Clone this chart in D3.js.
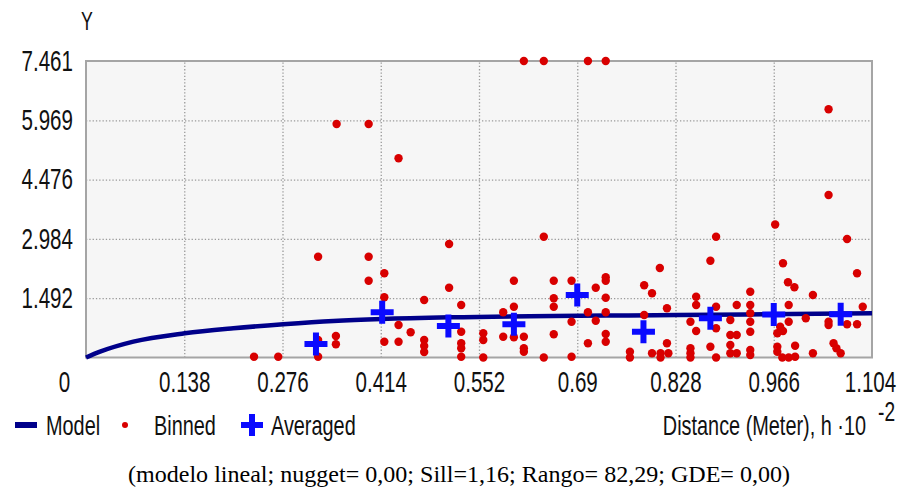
<!DOCTYPE html>
<html>
<head>
<meta charset="utf-8">
<script src="https://cdn.jsdelivr.net/npm/d3@7"></script>
<style>
  body { margin: 0; background: #fff; }
  svg { display: block; }
</style>
</head>
<body>
<svg id="chart" width="907" height="492"></svg>
<script>
// tick values shown on the axes
const xTicks = [0, 0.138, 0.276, 0.414, 0.552, 0.69, 0.828, 0.966, 1.104];
const yTicks = [0, 1.492, 2.984, 4.476, 5.969, 7.461];

// fitted model curve
const modelX = [0, 0.0197, 0.0665, 0.1387, 0.207, 0.277, 0.3475, 0.4155, 0.5115, 0.83, 1.104];
const modelY = [0, 0.146, 0.398, 0.609, 0.735, 0.835, 0.918, 0.969, 1.012, 1.069, 1.112];

// binned semivariogram cloud
const binnedX = [
  0.352, 0.397, 0.439, 0.615, 0.643, 0.705, 0.730, 1.043, 1.043, 0.326,
  0.397, 0.397, 0.419, 0.419, 0.475, 0.439, 0.456, 0.351, 0.351, 0.419,
  0.439, 0.475, 0.475, 0.475, 0.236, 0.270, 0.326, 0.510, 0.510, 0.527,
  0.527, 0.527, 0.527, 0.527, 0.558, 0.558, 0.558, 0.586, 0.586, 0.601,
  0.601, 0.601, 0.615, 0.615, 0.615, 0.643, 0.643, 0.657, 0.657, 0.657,
  0.657, 0.682, 0.682, 0.682, 0.705, 0.705, 0.716, 0.716, 0.730, 0.730,
  0.730, 0.730, 0.730, 0.730, 0.764, 0.764, 0.784, 0.795, 0.806, 0.784,
  0.816, 0.795, 0.807, 0.818, 0.807, 0.816, 0.885, 0.877, 0.968, 0.979,
  0.986, 0.995, 1.021, 1.069, 1.083, 1.091, 1.083, 1.069, 1.043, 1.043,
  1.050, 1.054, 1.060, 1.021, 1.011, 0.987, 0.987, 0.975, 0.979, 0.971,
  0.971, 0.971, 0.978, 0.987, 0.996, 0.996, 0.933, 0.933, 0.933, 0.933,
  0.933, 0.933, 0.933, 0.914, 0.905, 0.905, 0.914, 0.905, 0.905, 0.914,
  0.885, 0.885, 0.877, 0.885, 0.857, 0.857, 0.849, 0.857, 0.849, 0.849,
  0.849, 0.326
];
const binnedY = [
  5.876, 5.876, 5.013, 7.461, 7.461, 7.461, 7.461, 6.246, 4.089, 2.537,
  2.537, 1.933, 2.119, 1.515, 1.447, 0.818, 0.634, 0.541, 0.332, 0.398,
  0.398, 0.440, 0.289, 0.138, 0.02, 0.02, 0.02, 2.856, 1.756, 1.321,
  0.649, 0.357, 0.232, 0.02, 0.609, 0.440, 0.0, 1.137, 0.523, 1.933,
  1.278, 0.508, 0.523, 0.232, 0.146, 3.040, 0.0, 1.933, 1.490, 1.278,
  0.584, 1.933, 0.901, 0.02, 1.137, 0.357, 1.756, 0.926, 2.018, 1.933,
  1.505, 1.137, 0.591, 0.398, 0.146, 0.0, 1.817, 1.616, 2.252, 1.069,
  1.238, 0.106, 0.106, 0.106, 0.0, 0.357, 3.040, 2.436, 3.347, 2.370,
  1.892, 1.767, 1.573, 2.982, 2.119, 1.278, 0.835, 0.835, 0.901, 0.818,
  0.357, 0.232, 0.106, 0.106, 0.986, 1.321, 0.901, 0.775, 0.667, 0.609,
  0.272, 0.146, 0.0, 0.0, 0.02, 0.297, 1.656, 1.321, 1.112, 0.901,
  0.649, 0.189, 0.063, 1.321, 0.944, 0.566, 0.566, 0.315, 0.106, 0.106,
  1.278, 0.735, 0.272, 0.0, 1.530, 1.321, 0.901, 0.667, 0.232, 0.106,
  0.0, 0.44
];

// averaged values per lag
const avgX = [0.323, 0.416, 0.509, 0.601, 0.690, 0.783, 0.877, 0.966, 1.060];
const avgY = [0.340, 1.137, 0.790, 0.835, 1.573, 0.649, 0.986, 1.080, 1.090];

const caption = '(modelo lineal; nugget= 0,00; Sill=1,16; Rango= 82,29; GDE= 0,00)';

const margin = { top: 61, right: 35, bottom: 134.5, left: 86 };
const W = 907, H = 492;
const width = W - margin.left - margin.right;
const height = H - margin.top - margin.bottom;

const FONT = '"Liberation Sans", Arial, sans-serif';
const SQ = 0.71; // the original font is a narrow one

// squash text horizontally to mimic the narrow font (keeps its anchor point)
function squeeze (sel, k) {
  sel.each(function () {
    const t = d3.select(this);
    const x0 = +t.attr('x') || 0;
    t.attr('x', x0 / k).attr('transform', `scale(${k},1)`);
  });
}

const svg = d3.select('#chart');
const g = svg.append('g').attr('transform', `translate(${margin.left},${margin.top})`);

const x = d3.scaleLinear().domain([0, 1.104]).range([0, width]);
const y = d3.scaleLinear().domain([0, 7.461]).range([height, 0]);

// plot background
g.append('rect')
  .attr('width', width).attr('height', height)
  .attr('fill', '#f6f6f6');

// grid
const xGrid = g.append('g')
  .attr('transform', `translate(0,${height})`)
  .call(d3.axisBottom(x).tickValues(xTicks.slice(1, -1)).tickSize(-height).tickFormat(''));
const yGrid = g.append('g')
  .call(d3.axisLeft(y).tickValues(yTicks.slice(1, -1)).tickSize(-width).tickFormat(''));
[xGrid, yGrid].forEach(s => {
  s.select('.domain').remove();
  s.selectAll('line')
    .attr('stroke', '#9a9a9a')
    .attr('stroke-width', 1.3)
    .attr('stroke-dasharray', '1.3,2');
});

// frame
g.append('rect')
  .attr('width', width).attr('height', height)
  .attr('fill', 'none')
  .attr('stroke', '#a5a5a5')
  .attr('stroke-width', 2);

// tick labels
const yAx = g.append('g')
  .call(d3.axisLeft(y).tickValues(yTicks.slice(1)).tickSize(0).tickPadding(13).tickFormat(d3.format('.3f')));
yAx.select('.domain').remove();
yAx.selectAll('text')
  .attr('font-family', FONT).attr('font-size', 29).attr('fill', '#111')
  .call(squeeze, SQ);

const xAx = g.append('g')
  .attr('transform', `translate(0,${height})`)
  .call(d3.axisBottom(x).tickValues(xTicks).tickSize(0).tickPadding(14).tickFormat(d => d === 0 ? '0' : String(d)));
xAx.select('.domain').remove();
xAx.selectAll('.tick').filter(d => d === 0).select('text').attr('x', -22);
xAx.selectAll('.tick').filter(d => d === 1.104).select('text').attr('x', -2);
xAx.selectAll('text')
  .attr('font-family', FONT).attr('font-size', 29).attr('fill', '#111')
  .call(squeeze, SQ);

// axis title Y
svg.append('text')
  .attr('x', 87).attr('y', 30)
  .attr('text-anchor', 'middle')
  .attr('font-family', FONT).attr('font-size', 25).attr('fill', '#111')
  .text('Y')
  .call(squeeze, SQ);

// model curve
const line = d3.line()
  .x((d, i) => x(modelX[i]))
  .y((d, i) => y(modelY[i]))
  .curve(d3.curveMonotoneX);
g.append('path')
  .datum(modelX)
  .attr('d', line)
  .attr('fill', 'none')
  .attr('stroke', '#00008a')
  .attr('stroke-width', 4.5);

// binned points
g.selectAll('.binned')
  .data(binnedX)
  .enter().append('circle')
  .attr('class', 'binned')
  .attr('cx', (d, i) => x(d))
  .attr('cy', (d, i) => y(binnedY[i]))
  .attr('r', 4.2)
  .attr('fill', '#d80000');

// averaged points as blue crosses
const cross = (cx, cy, s) => `M${cx - s},${cy}h${2 * s}M${cx},${cy - s}v${2 * s}`;
g.selectAll('.avg')
  .data(avgX)
  .enter().append('path')
  .attr('class', 'avg')
  .attr('d', (d, i) => cross(x(d), y(avgY[i]), 11.5))
  .attr('stroke', '#0a0aff')
  .attr('stroke-width', 6);

// legend
const leg = svg.append('g').attr('transform', 'translate(0,425)');
leg.append('line')
  .attr('x1', 15).attr('x2', 37).attr('y1', 0).attr('y2', 0)
  .attr('stroke', '#00008a').attr('stroke-width', 6);
leg.append('circle').attr('cx', 125).attr('cy', 0).attr('r', 3).attr('fill', '#d80000');
leg.append('path').attr('d', cross(252, 0, 11)).attr('stroke', '#0a0aff').attr('stroke-width', 6);

const legItems = [
  { label: 'Model', x: 46 },
  { label: 'Binned', x: 154 },
  { label: 'Averaged', x: 271 }
];
leg.selectAll('.legtxt')
  .data(legItems)
  .enter().append('text')
  .attr('class', 'legtxt')
  .attr('x', d => d.x).attr('y', 10)
  .attr('font-family', FONT).attr('font-size', 28).attr('fill', '#111')
  .text(d => d.label)
  .call(squeeze, SQ);

leg.append('text')
  .attr('x', 866).attr('y', 10)
  .attr('text-anchor', 'end')
  .attr('font-family', FONT).attr('font-size', 28).attr('fill', '#111')
  .text('Distance (Meter), h \u00b710')
  .call(squeeze, SQ);
leg.append('text')
  .attr('x', 878).attr('y', -4)
  .attr('font-family', FONT).attr('font-size', 27).attr('fill', '#111')
  .text('-2')
  .call(squeeze, SQ);

// caption
svg.append('text')
  .attr('x', 459).attr('y', 482)
  .attr('text-anchor', 'middle')
  .attr('font-family', '"Liberation Serif", "Times New Roman", serif')
  .attr('font-size', 22.5)
  .attr('fill', '#000')
  .attr('textLength', 662)
  .attr('lengthAdjust', 'spacingAndGlyphs')
  .text(caption);
</script>
</body>
</html>
